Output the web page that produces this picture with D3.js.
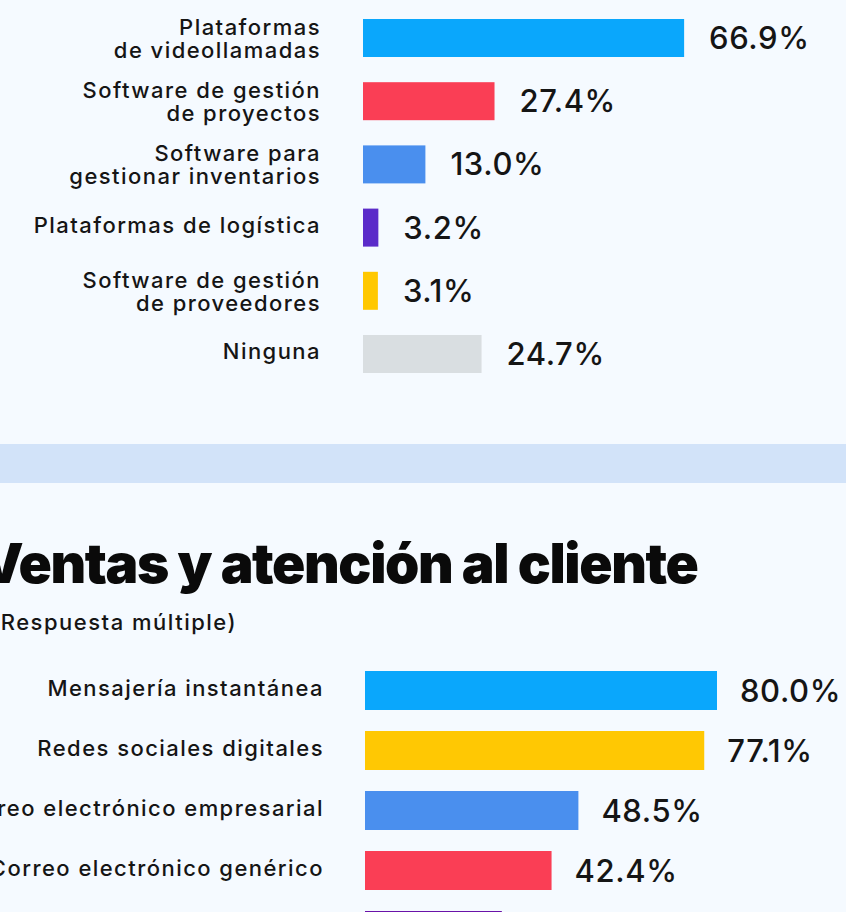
<!DOCTYPE html>
<html>
<head>
<meta charset="utf-8">
<script src="https://cdn.jsdelivr.net/npm/d3@7"></script>
<style>
  html,body{margin:0;padding:0;background:#f5faff;}
  svg{display:block;}
</style>
</head>
<body>
<div id="chart"></div>
<script>
/* ===== Herramientas digitales — two horizontal bar blocks ===== */

// --- top block (operaciones) ---
const topCategories = [
  "Plataformas\nde videollamadas",
  "Software de gestión\nde proyectos",
  "Software para\ngestionar inventarios",
  "Plataformas de logística",
  "Software de gestión\nde proveedores",
  "Ninguna"
];
const topValues = [66.9, 27.4, 13.0, 3.2, 3.1, 24.7];
const topColors = ["#0aa7fc", "#fa3e55", "#4a8fee", "#5b2bc9", "#ffc800", "#d9dee1"];

// --- bottom block (ventas y atención al cliente) ---
const bottomTitle = "Ventas y atención al cliente";
const bottomSubtitle = "(Respuesta múltiple)";
const bottomCategories = [
  "Mensajería instantánea",
  "Redes sociales digitales",
  "Correo electrónico empresarial",
  "Correo electrónico genérico",
  "" // label cropped below the picture
];
const bottomValues = [80.0, 77.1, 48.5, 42.4, 31.1];
const bottomColors = ["#0aa7fc", "#ffc803", "#4a8fee", "#fa3e55", "#6a12a8"];

const W = 846, H = 912;
const FONT = "Inter, 'Open Sans', sans-serif";
const INK = "#151515";

const svg = d3.select("#chart").append("svg")
  .attr("width", W).attr("height", H)
  .attr("viewBox", `0 0 ${W} ${H}`);

svg.append("rect").attr("width", W).attr("height", H).attr("fill", "#f5faff");

// divider band between the two sections
svg.append("rect").attr("x", 0).attr("y", 444).attr("width", W).attr("height", 39).attr("fill", "#d2e3f9");

function barBlock({ cats, vals, colors, x0, pxPerPct, yTop, step, barH, labelX, gap }){
  const n = cats.length;
  const x = d3.scaleLinear().domain([0, 100]).range([x0, x0 + 100 * pxPerPct]);
  const pin = 1 - barH / step;
  const y = d3.scaleBand().domain(d3.range(n))
    .range([yTop - step * pin / 2, yTop - step * pin / 2 + n * step])
    .paddingInner(pin).paddingOuter(pin / 2);

  const g = svg.append("g");

  g.selectAll("rect.bar").data(vals).join("rect")
    .attr("class", "bar")
    .attr("x", x(0))
    .attr("y", (d, i) => y(i))
    .attr("width", d => x(d) - x(0))
    .attr("height", y.bandwidth())
    .attr("fill", (d, i) => colors[i]);

  // value labels
  g.selectAll("text.val").data(vals).join("text")
    .attr("class", "val")
    .attr("x", d => x(d) + gap)
    .attr("y", (d, i) => y(i) + y.bandwidth() / 2 + 11)
    .attr("font-family", FONT).attr("font-size", 31).attr("font-weight", 500)
    .attr("letter-spacing", 0.6)
    .attr("fill", INK)
    .text(d => d.toFixed(1) + "%");

  // category labels (may be two lines)
  cats.forEach((c, i) => {
    const lines = c.split("\n");
    const cy = y(i) + y.bandwidth() / 2;
    const t = g.append("text")
      .attr("text-anchor", "end")
      .attr("font-family", FONT).attr("font-size", 22).attr("font-weight", 500)
      .attr("letter-spacing", 1.45)
      .attr("fill", INK);
    const first = lines.length === 1 ? cy + 5 : cy - 3;
    lines.forEach((ln, k) => {
      t.append("tspan").attr("x", labelX).attr("y", first + k * 23).text(ln);
    });
  });
}

barBlock({
  cats: topCategories, vals: topValues, colors: topColors,
  x0: 363, pxPerPct: 4.8, yTop: 19, step: 63.2, barH: 38, labelX: 321, gap: 25
});

// section title (cropped at the left edge, like the source)
svg.append("text")
  .attr("x", -20).attr("y", 583)
  .attr("font-family", FONT).attr("font-size", 55).attr("font-weight", 900)
  .attr("letter-spacing", -1.4)
  .attr("fill", "#0a0a0a")
  .text(bottomTitle);

svg.append("text")
  .attr("x", -9).attr("y", 630)
  .attr("font-family", FONT).attr("font-size", 22).attr("font-weight", 500)
  .attr("letter-spacing", 1.5)
  .attr("fill", INK)
  .text(bottomSubtitle);

barBlock({
  cats: bottomCategories, vals: bottomValues, colors: bottomColors,
  x0: 365, pxPerPct: 4.4, yTop: 671, step: 60, barH: 39, labelX: 324, gap: 23
});
</script>
</body>
</html>
